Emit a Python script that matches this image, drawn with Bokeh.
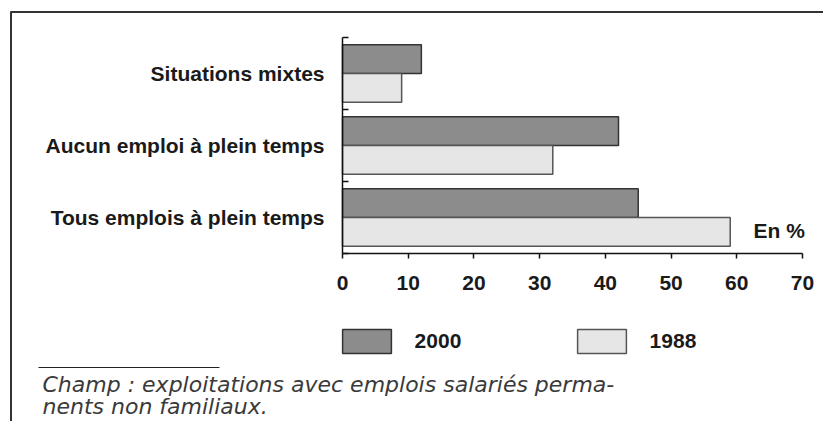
from bokeh.plotting import figure
from bokeh.models import (ColumnDataSource, LinearAxis, FixedTicker, Range1d,
                          Label, Legend, LegendItem)
from bokeh.embed import file_html
from bokeh.resources import INLINE

# ---- data ----
categories = ["Tous emplois à plein temps", "Aucun emploi à plein temps", "Situations mixtes"]
values_2000 = [45, 42, 12]
values_1988 = [59, 32, 9]
x_ticks = [0, 10, 20, 30, 40, 50, 60, 70]
series_names = ["2000", "1988"]
unit_label = "En %"
note_lines = ["Champ : exploitations avec emplois salariés perma-",
              "nents non familiaux."]

# ---- geometry (picture pixels -> data units) ----
W, H = 823, 421
PX0, PX70 = 342.0, 802.0      # x pixel of value 0 and 70
PY0, PY3 = 253.0, 37.0        # y pixel of band bottom and top
KX = (PX70 - PX0) / 70.0
KY = (PY0 - PY3) / 3.0

def dx(px):
    return (px - PX0) / KX

def dy(py):
    return (PY0 - py) / KY

p = figure(width=W, height=H, output_backend="svg", toolbar_location=None,
           x_axis_type=None, y_axis_type=None,
           x_range=Range1d(dx(0), dx(W)), y_range=Range1d(dy(H), dy(0)),
           min_border=0, min_border_left=0, min_border_right=0,
           min_border_top=0, min_border_bottom=0)
p.outline_line_color = None
p.background_fill_color = "white"
p.border_fill_color = "white"

n = len(categories)
centers = [i + 0.5 for i in range(n)]
bar_h = 0.4
src = ColumnDataSource(dict(
    y2000=[c + bar_h / 2 for c in centers],
    y1988=[c - bar_h / 2 for c in centers],
    v2000=values_2000, v1988=values_1988))

r2000 = p.hbar(y="y2000", right="v2000", left=0, height=bar_h, source=src,
               fill_color="#8c8c8c", line_color="#333333", line_width=1.5)
r1988 = p.hbar(y="y1988", right="v1988", left=0, height=bar_h, source=src,
               fill_color="#e6e6e6", line_color="#555555", line_width=1.5)

label_font = "Liberation Sans"

xaxis = LinearAxis(fixed_location=0, bounds=(0, 70),
                   ticker=FixedTicker(ticks=x_ticks, minor_ticks=[]),
                   major_tick_in=0, major_tick_out=5, minor_tick_in=0, minor_tick_out=0,
                   axis_line_color="#111111", axis_line_width=1.5,
                   major_tick_line_color="#111111", major_tick_line_width=1.5,
                   major_label_text_font=label_font, major_label_text_font_style="bold",
                   major_label_text_font_size="21px", major_label_text_color="#1a1a1a",
                   major_label_standoff=17)
p.add_layout(xaxis, "below")

yaxis = LinearAxis(fixed_location=0, bounds=(0, n),
                   ticker=FixedTicker(ticks=centers, minor_ticks=list(range(n + 1))),
                   major_label_overrides={c: lab for c, lab in zip(centers, categories)},
                   major_tick_in=0, major_tick_out=0, minor_tick_in=6, minor_tick_out=0,
                   axis_line_color="#111111", axis_line_width=1.5,
                   minor_tick_line_color="#111111", minor_tick_line_width=1.5,
                   major_label_text_font=label_font, major_label_text_font_style="bold",
                   major_label_text_font_size="21px", major_label_text_color="#1a1a1a",
                   major_label_standoff=18)
p.add_layout(yaxis, "left")

p.add_layout(Label(x=dx(753), y=dy(230), text=unit_label, text_align="left",
                   text_baseline="middle", text_font=label_font, text_font_style="bold",
                   text_font_size="21px", text_color="#1a1a1a"))

legend = Legend(items=[LegendItem(label=series_names[0], renderers=[r2000]),
                       LegendItem(label=series_names[1], renderers=[r1988])],
                orientation="horizontal", location=(335.6, H - 356.3),
                glyph_width=61, glyph_height=30, label_standoff=18,
                label_width=150, label_height=30, spacing=6, padding=0, margin=0,
                border_line_color=None, background_fill_alpha=0,
                label_text_font=label_font, label_text_font_style="bold",
                label_text_font_size="21px", label_text_color="#1a1a1a")
p.add_layout(legend, "center")

# frame lines and separator
p.segment(x0=[dx(10.5), dx(10)], y0=[dy(11), dy(11.5)],
          x1=[dx(10.5), dx(W)], y1=[dy(H), dy(11.5)],
          line_color="#333333", line_width=2)
p.segment(x0=[dx(38)], y0=[dy(367)], x1=[dx(219)], y1=[dy(367)],
          line_color="#222222", line_width=1)

for i, line in enumerate(note_lines):
    p.add_layout(Label(x=dx(42), y=dy(384 + 22 * i), text=line, text_align="left",
                       text_baseline="middle", text_font="DejaVu Sans",
                       text_font_style="italic", text_font_size="22px",
                       text_color="#3a3a3a"))

open("out.html", "w").write(file_html(p, INLINE))
